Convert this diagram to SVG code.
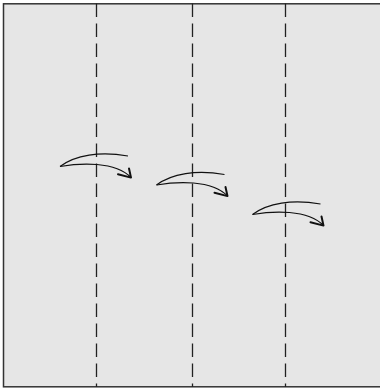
<svg xmlns="http://www.w3.org/2000/svg" width="380" height="390" viewBox="0 0 380 390">
<style>
.frame{fill:#e6e6e6;stroke:#333;stroke-width:1.5}
.dash{stroke:#222;stroke-width:1.3;stroke-dasharray:13.5 6.5;fill:none}
.curve{fill:none;stroke:#111;stroke-width:1.2}
.head{fill:none;stroke:#111;stroke-width:2;stroke-linecap:round;stroke-linejoin:round}
</style>
<defs>
<g id="arrow">
<path class="curve" d="M60,166.5 C75,155 100,151 128,156"/>
<path class="curve" d="M60,166.5 C80,163 115,161 131,177.5"/>
<path class="head" d="M118,174.3 L131,177.6 L129,168.5"/>
</g>
</defs>
<rect id="frame" class="frame" x="3.5" y="3.8" width="380" height="383"/>
<g id="lines">
<line class="dash" x1="96.5" y1="3.5" x2="96.5" y2="387"/>
<line class="dash" x1="192.5" y1="3.5" x2="192.5" y2="387"/>
<line class="dash" x1="285.5" y1="3.5" x2="285.5" y2="387"/>
</g>
<g id="connectors">
<use href="#arrow"/>
<use href="#arrow" transform="translate(96.5,18.5)"/>
<use href="#arrow" transform="translate(192.5,48)"/>
</g>
</svg>
